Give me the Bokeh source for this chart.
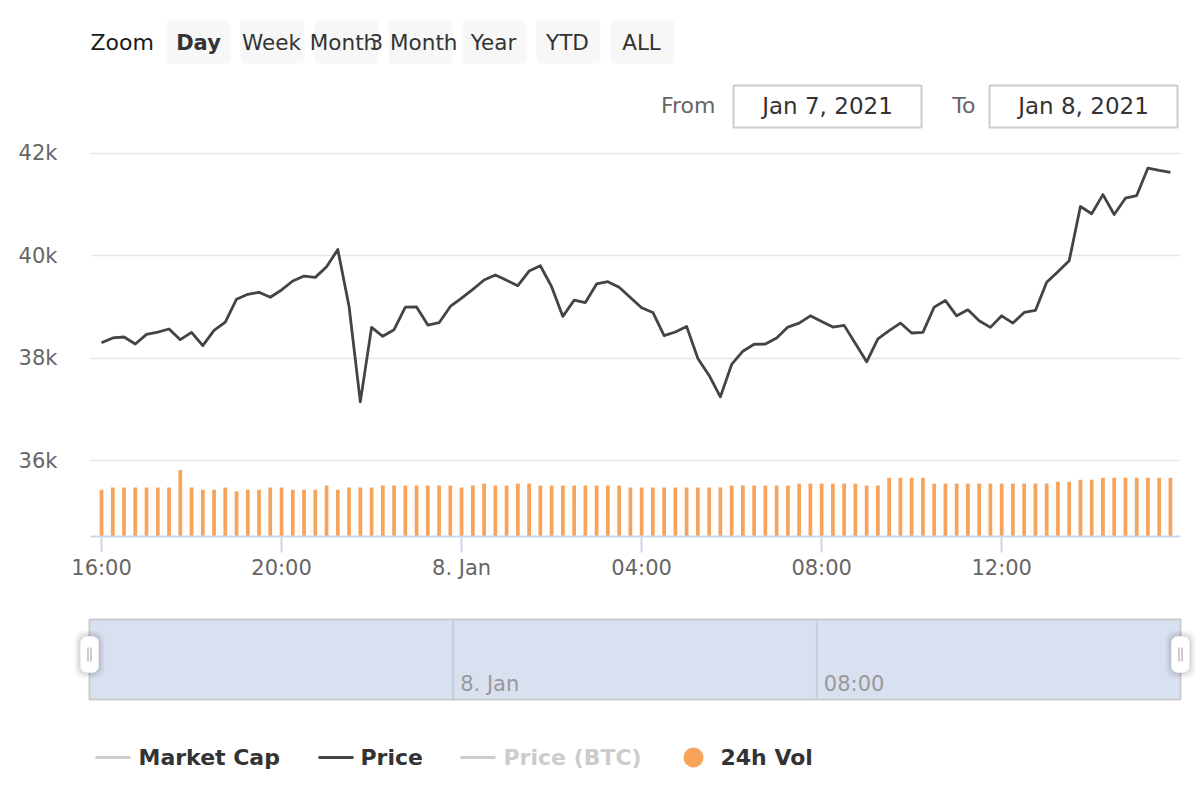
import pandas as pd
from bokeh.plotting import figure
from bokeh.models import Range1d, FixedTicker, ColumnDataSource
from bokeh.layouts import column
from bokeh.embed import file_html
from bokeh.resources import INLINE
from bokeh.core.properties import value

# ---------------- data ----------------
start_time = "2021-01-07 16:00"
interval_minutes = 15

price = [38300, 38395, 38414, 38278, 38466, 38511, 38570, 38362, 38505, 38246,
         38544, 38706, 39152, 39249, 39288, 39191, 39333, 39508, 39605, 39579,
         39786, 40123, 39010, 37146, 38602, 38427, 38557, 38997, 39000, 38647,
         38693, 39010, 39172, 39346, 39528, 39625, 39521, 39417, 39702, 39806,
         39398, 38816, 39133, 39087, 39450, 39495, 39385, 39184, 38984, 38893,
         38440, 38511, 38621, 37994, 37663, 37243, 37877, 38136, 38272, 38275,
         38395, 38608, 38686, 38828, 38718, 38608, 38641, 38285, 37929, 38375,
         38537, 38686, 38492, 38505, 38997, 39126, 38828, 38945, 38731, 38602,
         38828, 38686, 38893, 38932, 39482, 39689, 39903, 40964, 40822, 41197,
         40809, 41126, 41178, 41715, 41670, 41631]

volume = [72.5, 76, 76, 76, 76, 76, 76, 103, 76, 72.5,
          72.5, 76, 70, 72.5, 72.5, 76, 76, 72.5, 72.5, 72.5,
          79, 72.5, 76, 76, 76, 79, 79, 79, 79, 79,
          79, 79, 76, 79, 82, 79, 79, 82, 82, 79,
          79, 79, 79, 79, 79, 79, 79, 76, 76, 76,
          76, 76, 76, 76, 76, 76, 79, 79, 79, 79,
          79, 79, 82, 82, 82, 82, 82, 82, 79, 79,
          91, 91, 91, 91, 82, 82, 82, 82, 82, 82,
          82, 82, 82, 82, 82, 85, 85, 88, 88, 91,
          91, 91, 91, 91, 91, 91]

x_tick_times = ["2021-01-07 16:00", "2021-01-07 20:00", "2021-01-08 00:00",
                "2021-01-08 04:00", "2021-01-08 08:00", "2021-01-08 12:00"]
x_tick_labels = ["16:00", "20:00", "8. Jan", "04:00", "08:00", "12:00"]
y_ticks = [36000, 38000, 40000, 42000]
y_tick_labels = ["36k", "38k", "40k", "42k"]
nav_tick_times = ["2021-01-08 00:00", "2021-01-08 08:00"]
nav_tick_labels = ["8. Jan", "08:00"]
zoom_label = "Zoom"
zoom_buttons = ["Day", "Week", "Month", "3 Month", "Year", "YTD", "ALL"]
date_labels = ["From", "To"]
date_values = ["Jan 7, 2021", "Jan 8, 2021"]
legend_names = ["Market Cap", "Price", "Price (BTC)", "24h Vol"]

# ---------------- helpers ----------------
FONT = value("DejaVu Sans")
W = 1200
FL, FR = 90, 1180          # main frame left / right (page px)


def ms(s):
    return pd.Timestamp(s).value / 1e6


def px_fig(h, y0, y1, xl, xr, bl, br):
    f = figure(width=W, height=h, x_range=Range1d(xl, xr), y_range=Range1d(y1, y0),
               output_backend="svg", toolbar_location=None,
               x_axis_location=None, y_axis_location=None,
               min_border_left=bl, min_border_right=br, min_border_top=0,
               min_border_bottom=0)
    f.grid.visible = False
    f.outline_line_color = None
    return f


times = pd.date_range(start_time, periods=len(price), freq=f"{interval_minutes}min")
t_ms = [ts.value / 1e6 for ts in times]
MIN = 60 * 1000.0

src = ColumnDataSource(dict(t=t_ms, price=price, vol=volume))

# ---------------- top (range selector) ----------------
top = px_fig(140, 0, 140, FL, FR, FL, W - FR)

top.text(x=[90], y=[42], text=[zoom_label], text_font=FONT, text_font_size="22px",
         text_color="#1a1a1a", text_align="left", text_baseline="middle")

btn_left0, btn_step, btn_w = 166, 74, 64
bx = [btn_left0 + i * btn_step + btn_w / 2 for i in range(len(zoom_buttons))]
text_shift = [0, -1, -3, -7, -1, -1, -1]
tx = [b + s for b, s in zip(bx, text_shift)]
top.rect(x=bx, y=[41.5] * len(bx), width=btn_w, height=43, fill_color="#f7f7f7",
         line_color=None, border_radius=4)
top.text(x=tx[1:], y=[42] * (len(tx) - 1), text=zoom_buttons[1:], text_font=FONT,
         text_font_size="21.5px", text_color="#333333", text_align="center",
         text_baseline="middle")
top.text(x=tx[:1], y=[42], text=zoom_buttons[:1], text_font=FONT,
         text_font_size="21px", text_color="#333333", text_align="center",
         text_baseline="middle", text_font_style="bold")

box_l = [733, 989]
box_w = 188
label_r = [715, 975]
top.quad(left=box_l, right=[b + box_w for b in box_l], top=[85, 85], bottom=[127, 127],
         fill_color="white", line_color="#cccccc", line_width=2)
top.text(x=label_r, y=[105, 105], text=date_labels, text_font=FONT, text_font_size="22px",
         text_color="#666666", text_align="right", text_baseline="middle")
top.text(x=[b + box_w / 2 for b in box_l], y=[105, 105], text=date_values, text_font=FONT,
         text_font_size="23px", text_color="#333333", text_align="center",
         text_baseline="middle")

# ---------------- main chart ----------------
x0 = t_ms[0] - 14.7 * MIN
x1 = t_ms[-1] + 13.4 * MIN
main = figure(width=W, height=460, x_axis_type="datetime",
              x_range=Range1d(x0, x1), y_range=Range1d(34515, 42254),
              output_backend="svg", toolbar_location=None,
              min_border_left=FL, min_border_right=W - FR, min_border_top=0,
              min_border_bottom=64)
main.extra_y_ranges = {"vol": Range1d(0, 614)}
main.outline_line_color = None
main.xgrid.visible = False
main.ygrid.grid_line_color = "#e6e6e6"
main.ygrid.grid_line_width = 1.5
main.ygrid.ticker = FixedTicker(ticks=y_ticks)

main.vbar(x="t", top="vol", width=5 * MIN, source=src, y_range_name="vol",
          fill_color="#f7a35c", line_color=None)
main.line(x="t", y="price", source=src, line_color="#434348", line_width=2.8,
          line_join="round")

ya = main.yaxis[0]
ya.ticker = FixedTicker(ticks=y_ticks)
ya.major_label_overrides = {float(k): v for k, v in zip(y_ticks, y_tick_labels)}
ya.axis_line_color = None
ya.major_tick_line_color = None
ya.minor_tick_line_color = None
ya.major_label_standoff = 27
ya.major_label_text_font = "DejaVu Sans"
ya.major_label_text_font_size = "21px"
ya.major_label_text_color = "#666666"

xt = [ms(s) for s in x_tick_times]
xa = main.xaxis[0]
xa.ticker = FixedTicker(ticks=xt)
xa.major_label_overrides = {k: v for k, v in zip(xt, x_tick_labels)}
xa.axis_line_color = "#ccd6eb"
xa.axis_line_width = 2
xa.major_tick_line_color = "#ccd6eb"
xa.major_tick_line_width = 2
xa.major_tick_out = 16
xa.major_tick_in = 0
xa.minor_tick_line_color = None
xa.major_label_standoff = 3
xa.major_label_text_font = "DejaVu Sans"
xa.major_label_text_font_size = "21px"
xa.major_label_text_color = "#666666"

# ---------------- navigator (full-width frame, separate root) ----------------
nav_t0 = t_ms[0]
nav_t1 = t_ms[-1] + interval_minutes * MIN
px0, px1 = 89, 1180
mpp = (nav_t1 - nav_t0) / (px1 - px0)
nav = figure(width=W, height=115,
             x_range=Range1d(nav_t0 - px0 * mpp, nav_t0 + (W - px0) * mpp),
             y_range=Range1d(715, 600), output_backend="svg", toolbar_location=None,
             x_axis_location=None, y_axis_location=None,
             min_border_left=0, min_border_right=0, min_border_top=0, min_border_bottom=0)
nav.grid.visible = False
nav.outline_line_color = None
nav.quad(left=[nav_t0], right=[nav_t1], top=[619], bottom=[699],
         fill_color="#d9e0f0", line_color="#cccccc", line_width=2)
nt = [ms(s) for s in nav_tick_times]
nav.segment(x0=nt, y0=[620] * len(nt), x1=nt, y1=[698] * len(nt),
            line_color="#c5ccdb", line_width=2)
nav.text(x=nt, y=[683] * len(nt), text=nav_tick_labels, x_offset=7, text_font=FONT,
         text_font_size="21px", text_color="#999999", text_align="left",
         text_baseline="middle")
hx = [nav_t0, nav_t1]
for w_, h_, a_ in [(30, 48, 0.035), (26, 44, 0.05), (22, 40, 0.07)]:
    nav.rect(x=hx, y=[654, 654], width=w_, height=h_, width_units="screen",
             height_units="screen", fill_color="#000000", fill_alpha=a_, line_color=None,
             border_radius=9)
nav.rect(x=hx, y=[654, 654], width=18, height=36, width_units="screen",
         height_units="screen", fill_color="white", line_color="#eeeeee", line_width=1,
         border_radius=6)
gx = []
for h in hx:
    gx += [h - 1.5 * mpp, h + 1.5 * mpp]
nav.segment(x0=gx, y0=[647] * 4, x1=gx, y1=[661] * 4, line_color="#999999", line_width=1)

# ---------------- legend ----------------
leg = px_fig(70, 715, 785, 0, W, 0, 0)
ly = 757
line_x = [95, 318, 460]
line_colors = ["#cccccc", "#434348", "#cccccc"]
leg.segment(x0=line_x, y0=[ly] * 3, x1=[x + 35 for x in line_x], y1=[ly] * 3,
            line_color=line_colors, line_width=3)
leg.scatter(x=[693], y=[ly], size=20, marker="circle", fill_color="#f7a35c",
            line_color=None)
text_x = [138, 360, 503, 720]
text_colors = ["#333333", "#333333", "#cccccc", "#333333"]
leg.text(x=text_x, y=[ly] * 4, text=legend_names, text_color=text_colors, text_font=FONT,
         text_font_size="22px", text_font_style="bold", text_align="left",
         text_baseline="middle")

upper = column(top, main)
lower = column(nav, leg)
open("out.html", "w").write(file_html([upper, lower], INLINE))
